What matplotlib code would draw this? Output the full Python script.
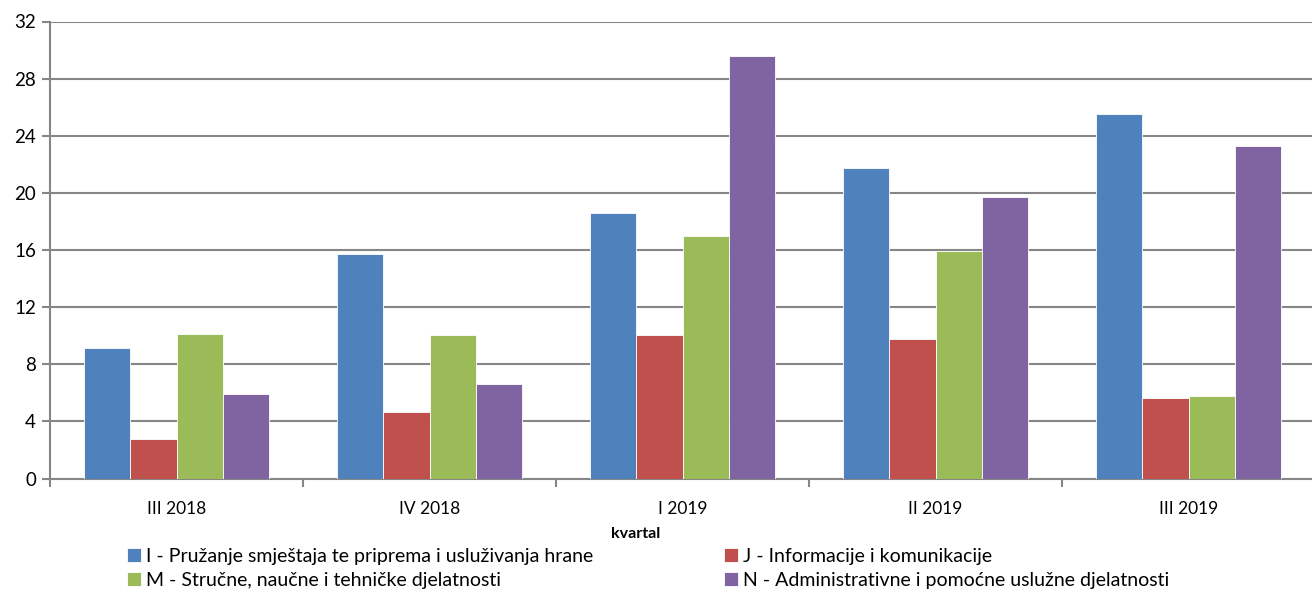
import matplotlib.pyplot as plt
import numpy as np

plt.rcParams['font.family'] = ['Lato', 'DejaVu Sans']

# data
kvartali = ['III 2018', 'IV 2018', 'I 2019', 'II 2019', 'III 2019']
serije = [
    'I - Pružanje smještaja te priprema i usluživanja hrane',
    'J - Informacije i komunikacije',
    'M - Stručne, naučne i tehničke djelatnosti',
    'N - Administrativne i pomoćne uslužne djelatnosti',
]
vrijednosti_I = [9.15, 15.75, 18.6, 21.75, 25.5]
vrijednosti_J = [2.8, 4.65, 10.05, 9.8, 5.65]
vrijednosti_M = [10.15, 10.05, 17.0, 15.9, 5.8]
vrijednosti_N = [5.95, 6.65, 29.6, 19.7, 23.25]
boje = ['#4f81bd', '#c0504d', '#9bbb59', '#8064a2']

W, H = 1312, 593
fig = plt.figure(figsize=(W / 100, H / 100), dpi=100)
# plot area runs slightly past the right edge, like the original
ax = fig.add_axes([50 / W, 1 - 478.5 / H, 1265 / W, 457 / H])

x = np.arange(len(kvartali))
sirina = 0.182
svi = [vrijednosti_I, vrijednosti_J, vrijednosti_M, vrijednosti_N]
for i, (vals, c, lab) in enumerate(zip(svi, boje, serije)):
    ax.bar(x + (i - 1.5) * sirina, vals, sirina, color=c, label=lab,
           edgecolor='white', linewidth=0.6, zorder=3)

ax.set_xlim(-0.5, 4.5)
ax.set_ylim(0, 32)
ax.set_yticks(np.arange(0, 33, 4))
ax.yaxis.grid(True, color='#868686', linewidth=1.5, zorder=0)
ax.set_axisbelow(True)

for s in ['top', 'right']:
    ax.spines[s].set_visible(False)
for s in ['left', 'bottom']:
    ax.spines[s].set_color('#868686')
    ax.spines[s].set_linewidth(1.5)

ax.set_xticks(np.arange(-0.5, 5, 1), minor=False)
ax.set_xticklabels([])
ax.set_xticks(x, minor=True)
ax.set_xticklabels(kvartali, minor=True, fontsize=12.5)
ax.tick_params(axis='x', which='major', length=6, color='#868686', width=1.5)
ax.tick_params(axis='x', which='minor', length=0, pad=16)
ax.tick_params(axis='y', length=6, color='#868686', width=1.5, labelsize=13.5, pad=4)

fig.text(636 / W, 1 - 534 / H, 'kvartal', fontsize=11.5, fontweight='bold',
         ha='center', va='center')

# legend: row 1 = I, J ; row 2 = M, N (legend fills column-wise)
h, l = ax.get_legend_handles_labels()
red = [0, 2, 1, 3]
fig.legend([h[k] for k in red], [l[k] for k in red], loc='center left',
           bbox_to_anchor=(127 / W, 1 - 568.5 / H),
           ncol=2, frameon=False, fontsize=14, handlelength=0.7,
           handleheight=0.7, handletextpad=0.3, columnspacing=6.7,
           labelspacing=0.35, borderaxespad=0, borderpad=0)

fig.savefig('out.png', dpi=100)
